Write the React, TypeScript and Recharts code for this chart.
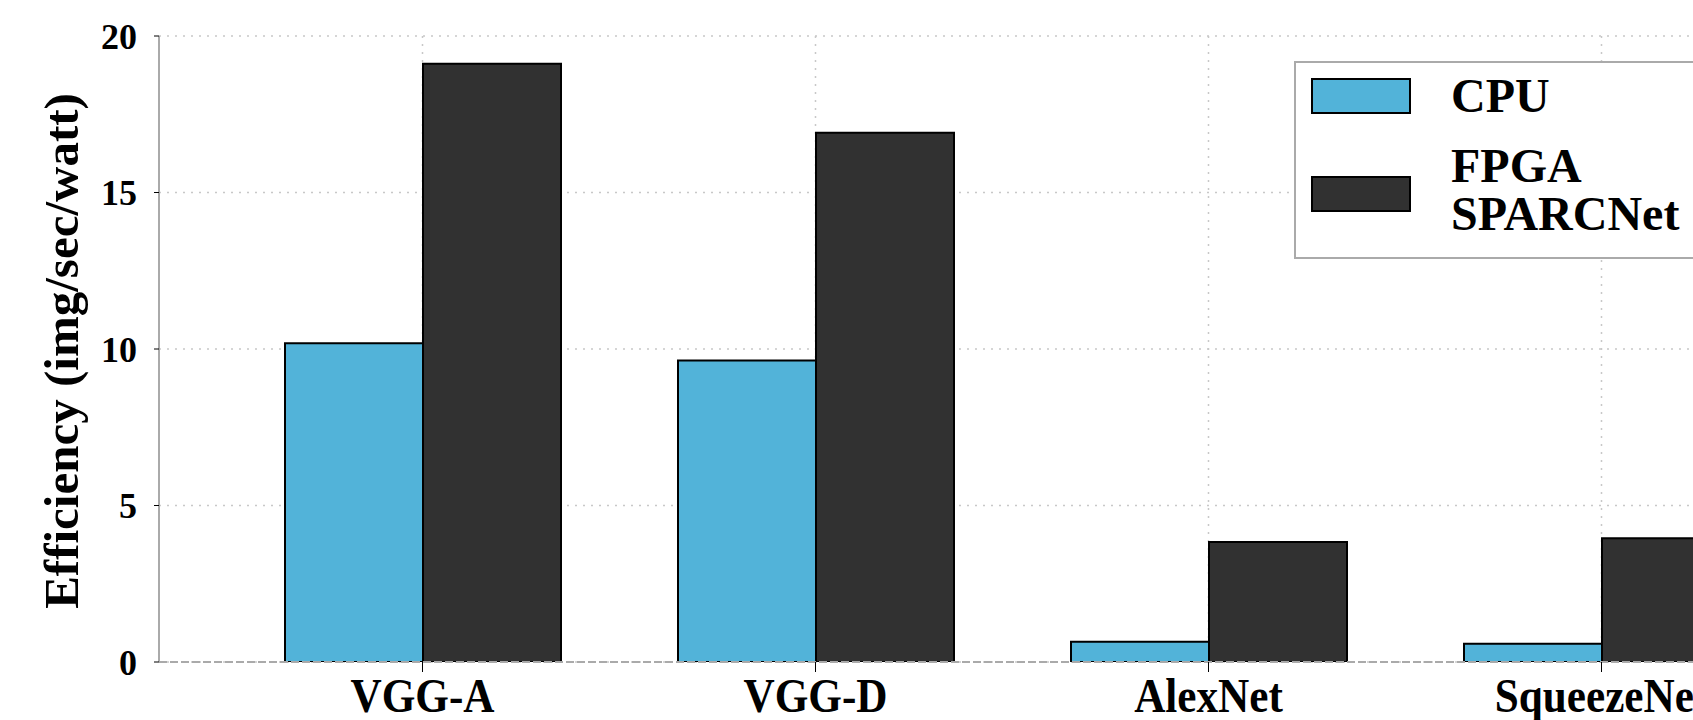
import React from 'react';
import { BarChart, Bar, XAxis, YAxis, CartesianGrid, Legend } from 'recharts';

const categories = ['VGG-A', 'VGG-D', 'AlexNet', 'SqueezeNet'];
const cpuValues = [10.18, 9.63, 0.65, 0.58];
const fpgaValues = [19.11, 16.91, 3.83, 3.95];
const yTicks = [0, 5, 10, 15, 20];
const seriesNames = ['CPU', 'FPGA SPARCNet'];
const seriesColors = ['#52b3d9', '#313131'];
const yLabel = 'Efficiency (img/sec/watt)';

const data = categories.map((c, i) => ({ name: c, cpu: cpuValues[i], fpga: fpgaValues[i] }));

const FONT = '"Liberation Serif", "Times New Roman", serif';

const XTick = (props: any) => {
  const { x, y, payload } = props;
  return (
    <g transform={`translate(${x},${y})`}>
      <text
        x={0}
        y={0}
        dy={38}
        textAnchor="middle"
        fontFamily={FONT}
        fontWeight="bold"
        fontSize={48}
        fill="#000"
        transform="scale(0.9,1)"
      >
        {payload.value}
      </text>
    </g>
  );
};

const LegendContent = (props: any) => {
  const payload = props.payload || [];
  return (
    <div
      style={{
        position: 'relative',
        boxSizing: 'border-box',
        width: 600,
        height: 198,
        border: '2px solid #aaa',
        background: '#fff',
        fontFamily: FONT,
        fontWeight: 'bold',
        fontSize: 48,
        lineHeight: '48px',
        color: '#000',
      }}
    >
      {payload.map((p: any, i: number) => (
        <React.Fragment key={i}>
          <div
            style={{
              position: 'absolute',
              left: 15,
              top: i === 0 ? 15 : 113,
              width: 100,
              height: 36,
              boxSizing: 'border-box',
              border: '2px solid #000',
              background: p.color,
            }}
          />
          <div
            style={{
              position: 'absolute',
              left: 155,
              top: i === 0 ? 9 : 79,
              width: 250,
              whiteSpace: 'normal',
            }}
          >
            {p.value}
          </div>
        </React.Fragment>
      ))}
    </div>
  );
};

const YLabel = (props: any) => {
  const vb = props.viewBox || {};
  const cy = (vb.y ?? 36) + (vb.height ?? 626) / 2 + 2;
  const cx = 78;
  return (
    <text
      x={cx}
      y={cy}
      transform={`rotate(-90, ${cx}, ${cy})`}
      textAnchor="middle"
      fontFamily={FONT}
      fontWeight="bold"
      fontSize={49}
      fill="#000"
    >
      {yLabel}
    </text>
  );
};

export default function App() {
  return (
    <div
      style={{
        position: 'absolute',
        left: 0,
        top: 0,
        width: 1693,
        height: 720,
        overflow: 'hidden',
        background: '#fff',
      }}
    >
      <BarChart
        width={1900}
        height={720}
        data={data}
        margin={{ top: 36, right: 20, bottom: 0, left: 0 }}
        barGap={0}
        barCategoryGap={59}
      >
        <CartesianGrid stroke="#c8c8c8" strokeWidth={1.5} strokeDasharray="2 6" />
        <XAxis
          dataKey="name"
          height={58}
          padding={{ left: 67, right: 82 }}
          axisLine={{ stroke: '#aaa', strokeWidth: 2, strokeDasharray: '8 3' }}
          tickLine={{ stroke: '#000', strokeWidth: 1 }}
          tickSize={10}
          tickMargin={2}
          tick={<XTick />}
          interval={0}
        />
        <YAxis
          width={159}
          domain={[0, 20]}
          ticks={yTicks}
          allowDataOverflow
          axisLine={{ stroke: '#aaa', strokeWidth: 2 }}
          tickLine={{ stroke: '#000', strokeWidth: 1 }}
          tickSize={5}
          tickMargin={17}
          tick={{ fontFamily: FONT, fontWeight: 'bold', fontSize: 36, fill: '#000' }}
          label={<YLabel />}
        />
        <Legend
          layout="horizontal"
          align="center"
          verticalAlign="middle"
          content={<LegendContent />}
          wrapperStyle={{ position: 'absolute', left: 1294, top: 61, width: 600, height: 198 }}
        />
        <Bar
          dataKey="cpu"
          name={seriesNames[0]}
          fill={seriesColors[0]}
          stroke="#000"
          strokeWidth={2}
          isAnimationActive={false}
        />
        <Bar
          dataKey="fpga"
          name={seriesNames[1]}
          fill={seriesColors[1]}
          stroke="#000"
          strokeWidth={2}
          isAnimationActive={false}
        />
      </BarChart>
    </div>
  );
}
